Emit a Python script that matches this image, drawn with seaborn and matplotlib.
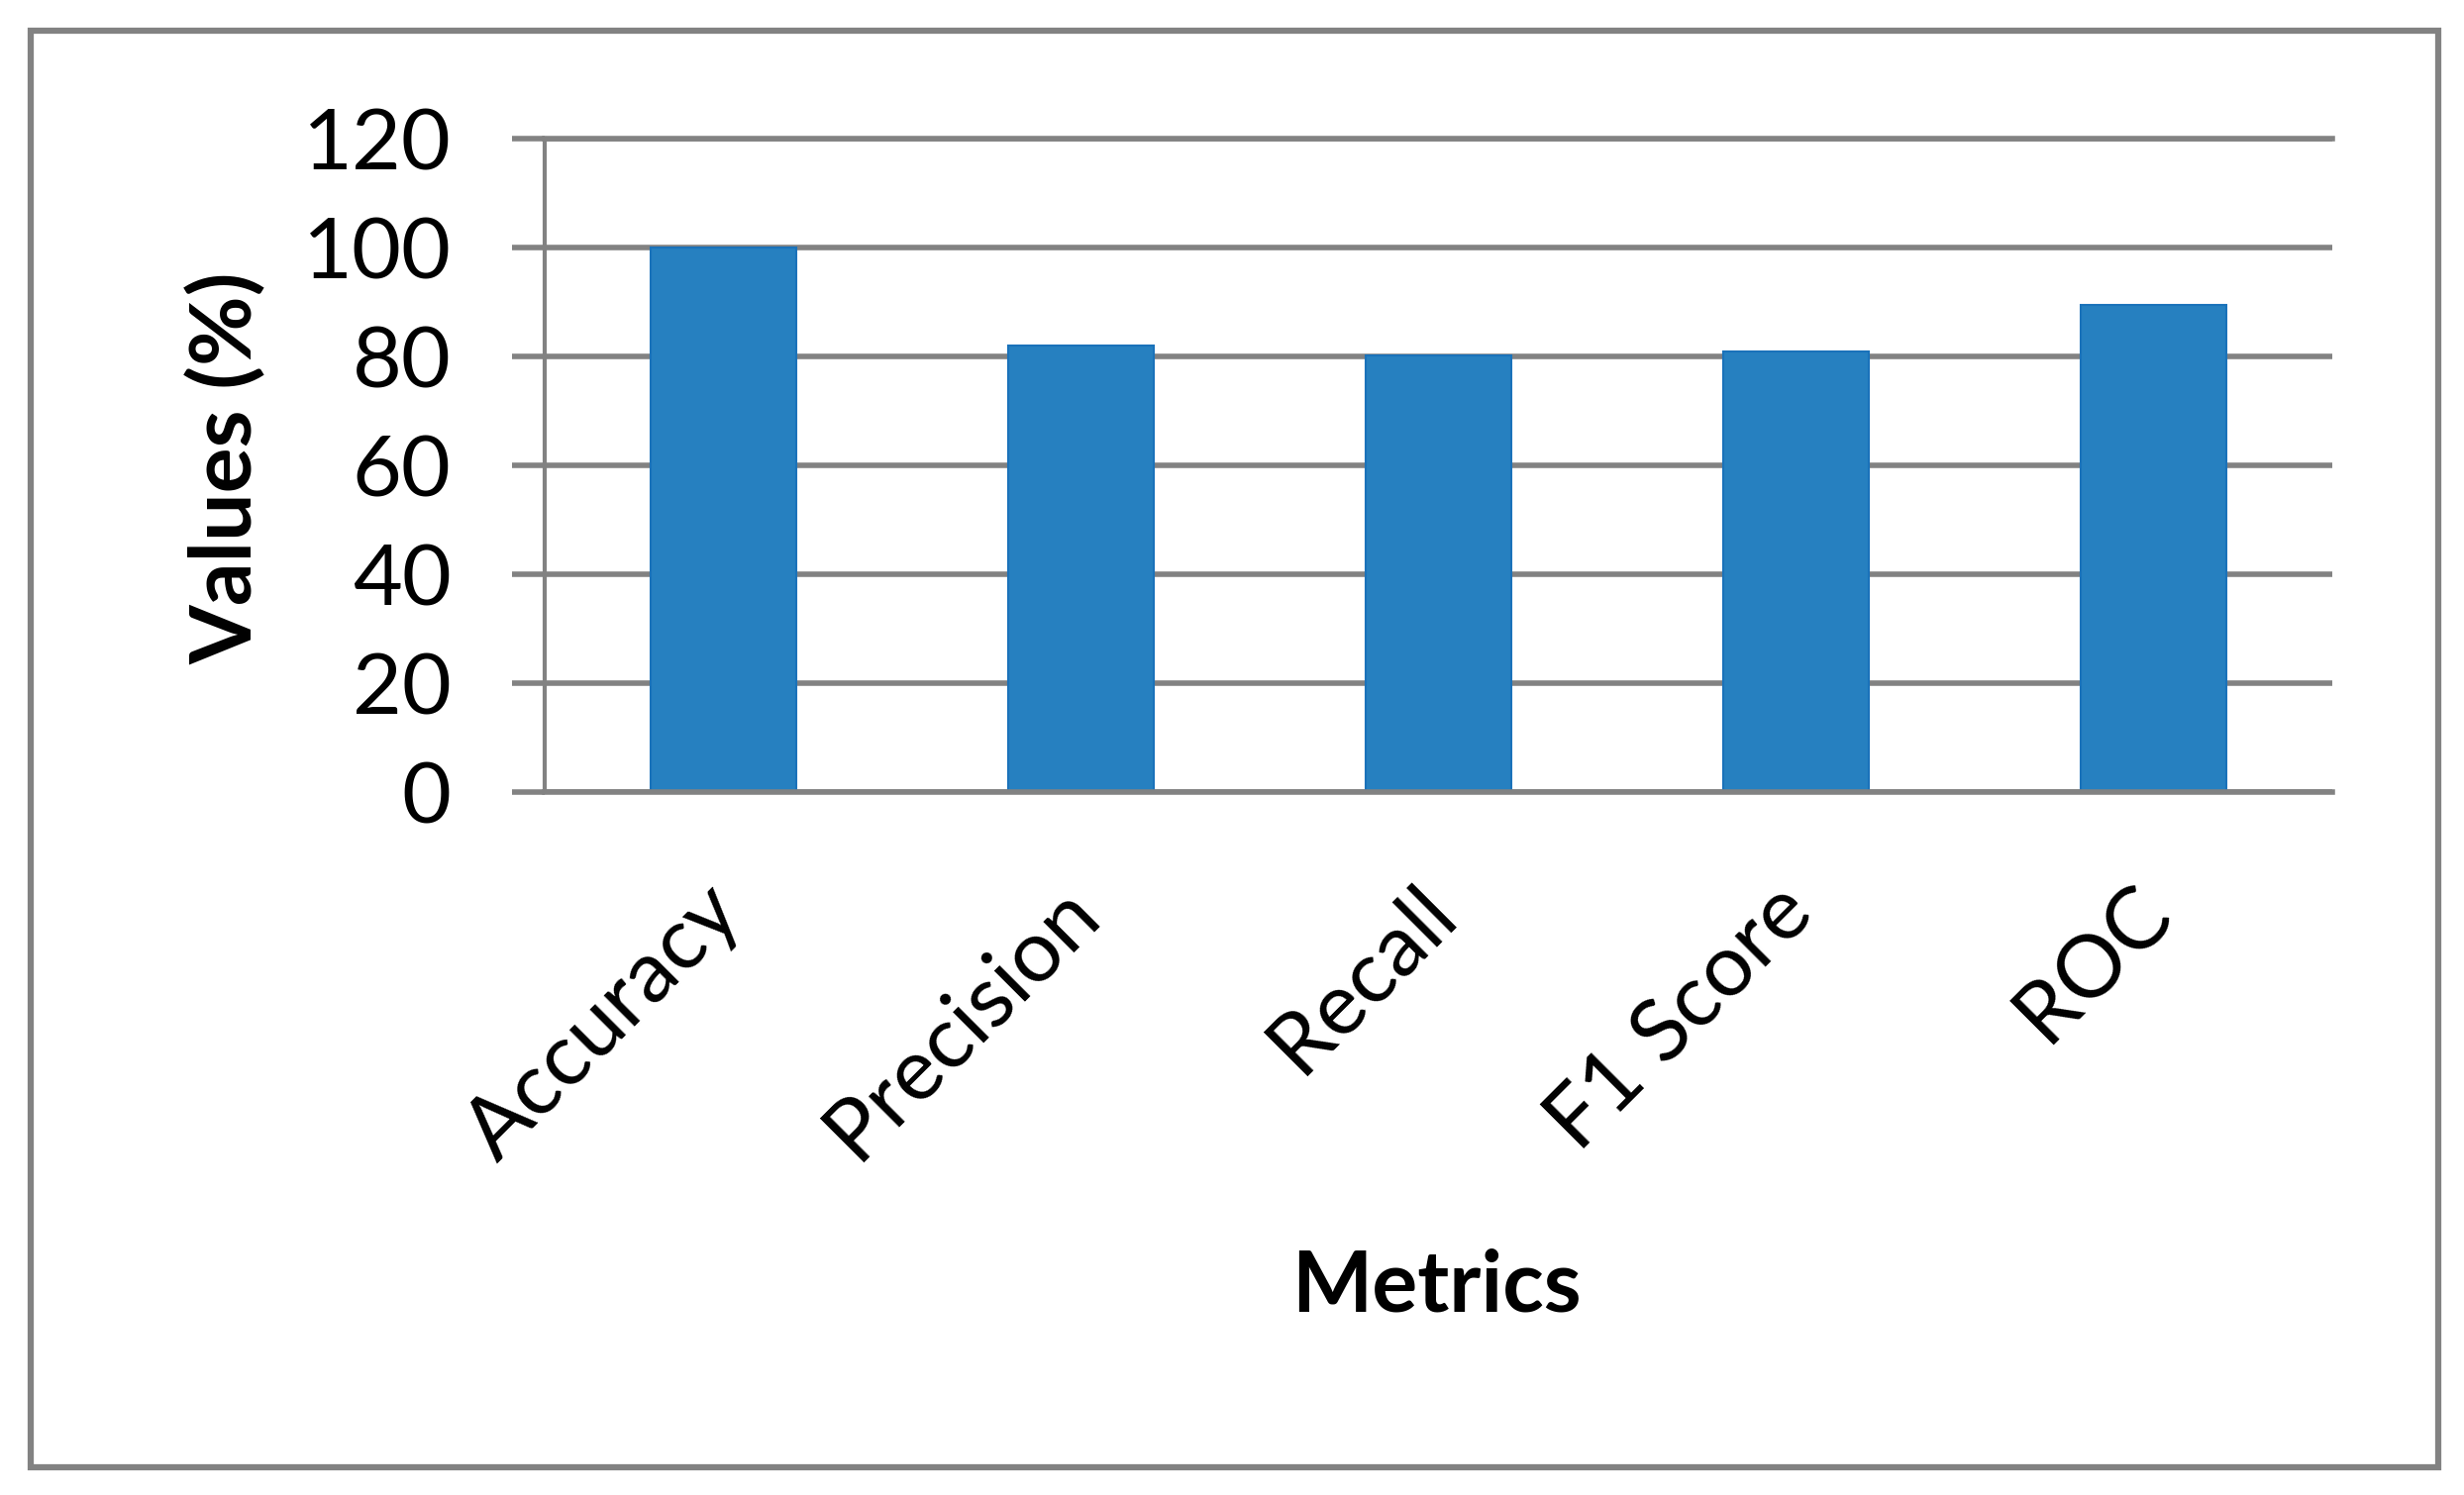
import matplotlib
matplotlib.use('Agg')
import matplotlib.pyplot as plt
import matplotlib.transforms as mtransforms
from matplotlib.patches import Rectangle
import pandas as pd
import seaborn as sns

metrics = ['Accuracy', 'Precision', 'Recall', 'F1 Score', 'ROC']
values = [100, 82, 80.2, 80.9, 89.5]
y_ticks = [0, 20, 40, 60, 80, 100, 120]

sns.set_theme(style='white')
plt.rcParams['font.family'] = ['Lato', 'DejaVu Sans']

grey = '#828282'
blue = '#2680C0'

df = pd.DataFrame({'Metrics': metrics, 'Values': values})

fig = plt.figure(figsize=(24.88, 15.10), dpi=100)
ax = fig.add_axes([0.2211, 0.4702, 0.7254, 0.4371])

sns.barplot(data=df, x='Metrics', y='Values', color=blue, saturation=1,
            width=0.405, edgecolor='#1A72BA', linewidth=1.5, ax=ax)

ax.set_xlim(-0.5, 4.5)
ax.set_ylim(0, 120)
ax.set_yticks(y_ticks)
ax.set_axisbelow(True)
ax.yaxis.grid(True, color=grey, linewidth=4)
ax.xaxis.grid(False)

for side in ['top', 'bottom']:
    ax.spines[side].set_color(grey)
    ax.spines[side].set_linewidth(4)
ax.spines['left'].set_color(grey)
ax.spines['left'].set_linewidth(3)
ax.spines['right'].set_visible(False)

ax.tick_params(axis='y', left=True, direction='out', length=24, width=4,
               color=grey, pad=44, labelsize=62, labelcolor='black')
ax.tick_params(axis='x', bottom=False, length=0, pad=78, labelsize=63,
               labelcolor='black')

offset = mtransforms.ScaledTranslation(0.04, 0, fig.dpi_scale_trans)
for lbl in ax.get_xticklabels():
    lbl.set_rotation(45)
    lbl.set_ha('right')
    lbl.set_va('center')
    lbl.set_rotation_mode('anchor')
    lbl.set_transform(lbl.get_transform() + offset)

ax.set_ylabel('Values (%)', fontsize=62, fontweight='bold', va='center',
              color='black')
ax.yaxis.set_label_coords(-0.178, 0.495)
ax.set_xlabel('Metrics', fontsize=62, fontweight='bold', va='center',
              color='black')
ax.xaxis.set_label_coords(0.4986, -0.758)

# outer frame around the whole chart
fig.patches.append(Rectangle((31 / 2488, 1 - 1482 / 1510), (2462 - 31) / 2488,
                             (1482 - 31) / 1510, transform=fig.transFigure,
                             fill=False, edgecolor=grey, linewidth=4.5))

fig.savefig('out.png', dpi=100)
